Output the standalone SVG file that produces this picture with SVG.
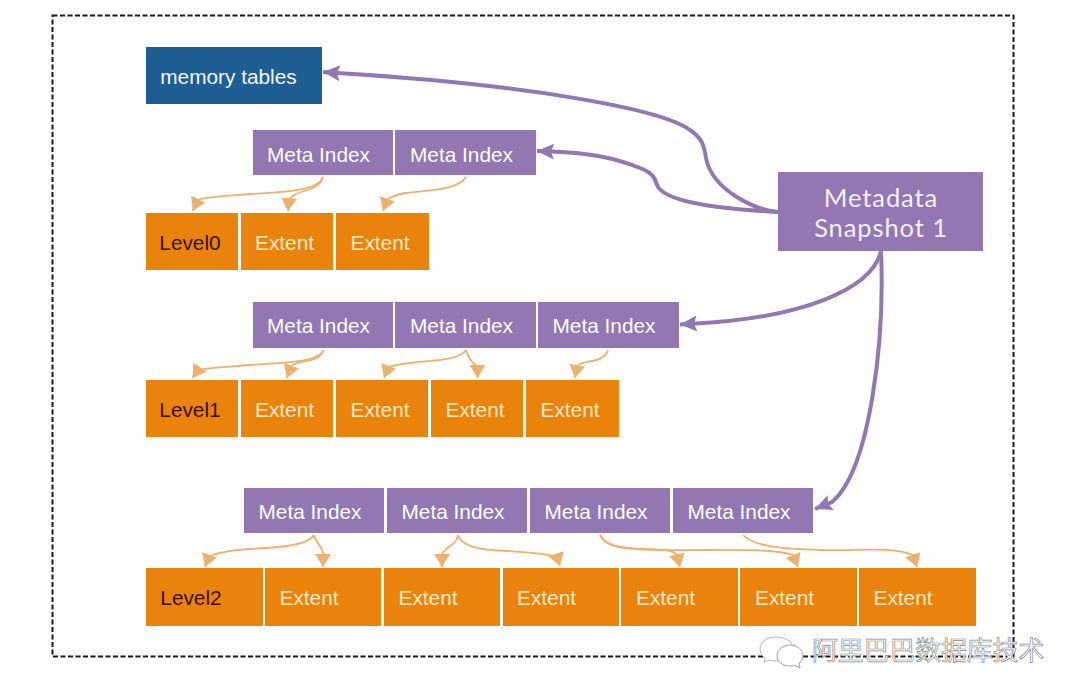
<svg xmlns="http://www.w3.org/2000/svg" width="1080" height="699" viewBox="0 0 1080 699">
<style>
.m{fill:#9277b2}.e{fill:#e9830b}.b{fill:#1f5e93}
text{font-family:"Liberation Sans",Arial,sans-serif;font-size:20.8px}
.mt{fill:#fff;text-anchor:middle}.et{fill:#fdeac4;text-anchor:middle}.lt{fill:#3a0d10;text-anchor:middle}
.big{font-family:"Lato","Open Sans",sans-serif;font-size:25.5px;fill:#f6f0fa;text-anchor:middle;letter-spacing:.9px}
.pc{fill:none;stroke:#9277b2;stroke-width:4}
.oc{fill:none;stroke:#eeb06f;stroke-width:1.8}
.wm{font-family:"Noto Sans CJK SC",sans-serif;font-size:25.8px;fill:#fff;stroke:#8a8a8a;stroke-width:.7}
</style>
<defs>
<marker id="pa" markerUnits="userSpaceOnUse" markerWidth="20" markerHeight="20" refX="17" refY="10" orient="auto"><path d="M0 2L17 10L0 18L3 10Z" fill="#9277b2"/></marker>
<marker id="oa" markerUnits="userSpaceOnUse" markerWidth="18" markerHeight="18" refX="13" refY="8" orient="auto"><path d="M0 0L13 8L0 16Z" fill="#eeb06f"/></marker>
</defs>
<rect width="1080" height="699" fill="#fff"/>
<rect id="frame" x="52.500" y="15.500" width="961" height="641" fill="none" stroke="#1a1a1a" stroke-width="2" stroke-dasharray="5 2.500"/>
<g id="connectors">
<path class="pc" d="M778 212C755 210 712 190 706 158C704 145 702 138 690 130C660 108 520 84 337 73L323 72" marker-end="url(#pa)"/>
<path class="pc" d="M778 212C740 210 665 205 657 185C654 175 650 172 640 168C615 158 590 153 552 151.500L537 151" marker-end="url(#pa)"/>
<path class="pc" d="M881 251C872 290 800 318 696 323.500L680 324.500" marker-end="url(#pa)"/>
<path class="pc" d="M881 251C885 340 870 470 832 502L815 509" marker-end="url(#pa)"/>
<g>
<path class="oc" d="M323 177C318 190 290 192 250 194C225 196 205 197 198 200L192.700 211" marker-end="url(#oa)"/>
<path class="oc" d="M323 177C320 190 300 190 293 196C290 198 289 199 289 200L288 211" marker-end="url(#oa)"/>
<path class="oc" d="M466 177C458 190 430 190 405 193C395 195 390 197 387 200L383 211" marker-end="url(#oa)"/>
<path class="oc" d="M323.500 350C318 362 290 362 250 365C225 367 205 368 198 370L192.600 378" marker-end="url(#oa)"/>
<path class="oc" d="M323.500 350C320 362 303 360 295 364C292 365 291 366 291 367L287 378" marker-end="url(#oa)"/>
<path class="oc" d="M466 350C460 360 435 360 410 363C400 364 392 365 388 368L384 378" marker-end="url(#oa)"/>
<path class="oc" d="M466 350C468 358 472 362 477.500 367L477.500 378" marker-end="url(#oa)"/>
<path class="oc" d="M608 350C604 362 590 360 580 364C578 365 577 366 577 367L575 378" marker-end="url(#oa)"/>
<path class="oc" d="M314 535C308 545 285 547 250 549C235 550 220 552 209 556L205 567" marker-end="url(#oa)"/>
<path class="oc" d="M314 535C316 545 323 545 323 555L323 567" marker-end="url(#oa)"/>
<path class="oc" d="M458 535C456 547 444 546 442 555L442 567" marker-end="url(#oa)"/>
<path class="oc" d="M458 535C461 545 475 550 507 551C525 552 545 553 557 557L560 566" marker-end="url(#oa)"/>
<path class="oc" d="M600 535C606 548 625 548 645 549C660 550 672 549 677 555L680 567" marker-end="url(#oa)"/>
<path class="oc" d="M600 535C606 548 625 549 660 550C710 551 770 547 793 555L798 567" marker-end="url(#oa)"/>
<path class="oc" d="M743 535C755 548 790 549 820 550C860 551 890 546 913 555L917 567" marker-end="url(#oa)"/>
</g>
</g>
<g id="memory"><rect class="b" x="146" y="47" width="176" height="57"/><text x="228.500" y="84" text-anchor="middle" fill="#f4f7fb">memory tables</text></g>
<g id="snapshot"><rect class="m" x="778" y="172" width="205" height="79"/><text class="big" x="881" y="207">Metadata</text><text class="big" x="881" y="237">Snapshot 1</text></g>
<g id="m00"><rect class="m" x="253" y="130" width="140" height="45"/><text class="mt" x="318.500" y="162">Meta Index</text></g>
<g id="m01"><rect class="m" x="395" y="130" width="141" height="45"/><text class="mt" x="461.500" y="162">Meta Index</text></g>
<g id="l0"><rect class="e" x="146" y="213" width="92" height="57"/><text class="lt" x="190" y="250">Level0</text></g>
<g id="e01"><rect class="e" x="241" y="213" width="92" height="57"/><text class="et" x="284.500" y="250">Extent</text></g>
<g id="e02"><rect class="e" x="336" y="213" width="93" height="57"/><text class="et" x="380" y="250">Extent</text></g>
<g id="m10"><rect class="m" x="253" y="302" width="140" height="46"/><text class="mt" x="318.500" y="333">Meta Index</text></g>
<g id="m11"><rect class="m" x="395" y="302" width="141" height="46"/><text class="mt" x="461.500" y="333">Meta Index</text></g>
<g id="m12"><rect class="m" x="538" y="302" width="141" height="46"/><text class="mt" x="604" y="333">Meta Index</text></g>
<g id="l1"><rect class="e" x="146" y="380" width="92" height="57"/><text class="lt" x="190" y="417">Level1</text></g>
<g id="e11"><rect class="e" x="241" y="380" width="92" height="57"/><text class="et" x="284.500" y="417">Extent</text></g>
<g id="e12"><rect class="e" x="336" y="380" width="92" height="57"/><text class="et" x="380" y="417">Extent</text></g>
<g id="e13"><rect class="e" x="431" y="380" width="92" height="57"/><text class="et" x="475" y="417">Extent</text></g>
<g id="e14"><rect class="e" x="526" y="380" width="93" height="57"/><text class="et" x="570" y="417">Extent</text></g>
<g id="m20"><rect class="m" x="244" y="488" width="140" height="45"/><text class="mt" x="310" y="519">Meta Index</text></g>
<g id="m21"><rect class="m" x="387" y="488" width="140" height="45"/><text class="mt" x="453" y="519">Meta Index</text></g>
<g id="m22"><rect class="m" x="530" y="488" width="140" height="45"/><text class="mt" x="596" y="519">Meta Index</text></g>
<g id="m23"><rect class="m" x="673" y="488" width="140" height="45"/><text class="mt" x="739" y="519">Meta Index</text></g>
<g id="l2"><rect class="e" x="146" y="568" width="117" height="58"/><text class="lt" x="191" y="605">Level2</text></g>
<g id="e21"><rect class="e" x="265" y="568" width="116" height="58"/><text class="et" x="309" y="605">Extent</text></g>
<g id="e22"><rect class="e" x="384" y="568" width="116" height="58"/><text class="et" x="428" y="605">Extent</text></g>
<g id="e23"><rect class="e" x="503" y="568" width="116" height="58"/><text class="et" x="546.500" y="605">Extent</text></g>
<g id="e24"><rect class="e" x="621" y="568" width="117" height="58"/><text class="et" x="665.500" y="605">Extent</text></g>
<g id="e25"><rect class="e" x="740" y="568" width="117" height="58"/><text class="et" x="784.500" y="605">Extent</text></g>
<g id="e26"><rect class="e" x="859" y="568" width="117" height="58"/><text class="et" x="903" y="605">Extent</text></g>
<g id="watermark">
<path d="M776 637C767 637 760 642 760 649C760 653 762 656 765 658L764 662L769 660C771 660.500 773 661 776 661C786 661 793 656 793 649C793 642 786 637 776 637Z" fill="#fff" stroke="#b5b5b5" stroke-width="1"/>
<path d="M790 645C783 645 777 650 777 656C777 662 783 666 790 666C792 666 793 666 795 665.500L800 668L799 663C802 661 803 659 803 656C803 650 797 645 790 645Z" fill="#fff" stroke="#a0a0a0" stroke-width="1"/>
<text class="wm" x="812" y="660">阿里巴巴数据库技术</text>
</g>
</svg>
